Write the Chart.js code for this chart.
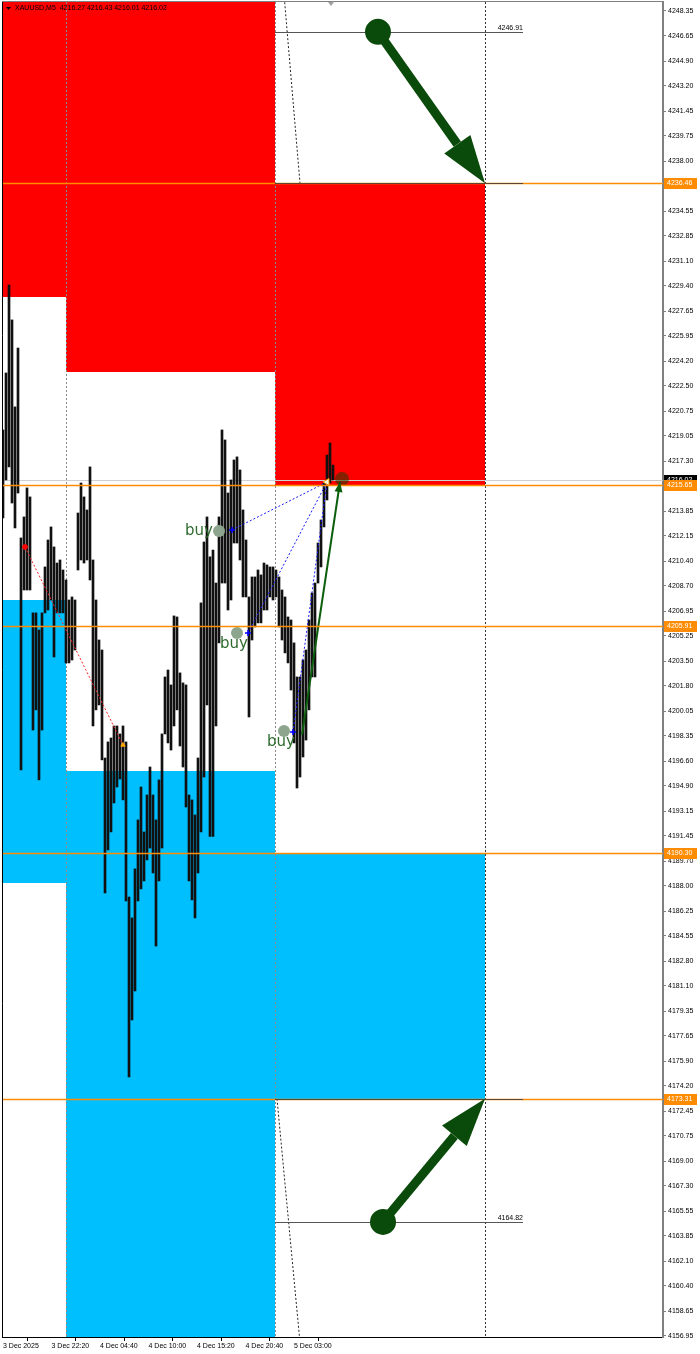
<!DOCTYPE html>
<html>
<head>
<meta charset="utf-8">
<script src="https://cdn.jsdelivr.net/npm/chart.js@4.4.1/dist/chart.umd.min.js"></script>
<style>
  html, body { margin: 0; padding: 0; background: #fff; }
  #wrap { width: 700px; height: 1354px; }
</style>
</head>
<body>
<div id="wrap"><canvas id="chart" width="700" height="1354"></canvas></div>
<script>
// x unit = one screen column of bars on the M5 chart
const timeLabels = ["3 Dec 2025", "3 Dec 22:20", "4 Dec 04:40", "4 Dec 10:00", "4 Dec 15:20", "4 Dec 20:40", "5 Dec 03:00"];
const timeLabelSlots = [0, 16.17, 32.33, 48.5, 64.67, 80.83, 97];

const priceTicks = [
  4248.35, 4246.65, 4244.90, 4243.20, 4241.45, 4239.75, 4238.00, 4236.30, 4234.55, 4232.85,
  4231.10, 4229.40, 4227.65, 4225.95, 4224.20, 4222.50, 4220.75, 4219.05, 4217.30, 4215.60,
  4213.85, 4212.15, 4210.40, 4208.70, 4206.95, 4205.25, 4203.50, 4201.80, 4200.05, 4198.35,
  4196.60, 4194.90, 4193.15, 4191.45, 4189.70, 4188.00, 4186.25, 4184.55, 4182.80, 4181.10,
  4179.35, 4177.65, 4175.90, 4174.20, 4172.45, 4170.75, 4169.00, 4167.30, 4165.55, 4163.85,
  4162.10, 4160.40, 4158.65, 4156.95
];

const barLow = [
  4213.38, 4216.00, 4216.90, 4214.41, 4212.69, 4215.10, 4196.00, 4208.41, 4208.41, 4208.41,
  4198.75, 4200.14, 4195.31, 4198.75, 4206.83, 4207.03, 4207.72, 4203.79, 4206.83, 4206.83,
  4206.83, 4203.38, 4203.38, 4203.58, 4204.27, 4209.79, 4210.48, 4210.27, 4210.48, 4209.10,
  4199.03, 4200.14, 4200.48, 4196.69, 4187.51, 4190.48, 4191.72, 4193.72, 4194.82, 4195.37,
  4193.93, 4186.96, 4174.82, 4178.75, 4180.75, 4186.96, 4187.79, 4188.34, 4189.79, 4190.61,
  4188.89, 4183.85, 4188.34, 4190.61, 4198.48, 4197.86, 4197.37, 4199.03, 4200.14, 4197.65,
  4196.20, 4193.44, 4188.34, 4187.03, 4185.79, 4188.89, 4191.72, 4195.51, 4200.48, 4191.41,
  4191.41, 4199.03, 4204.76, 4208.89, 4208.89, 4207.03, 4207.72, 4211.65, 4211.65, 4210.48,
  4207.93, 4207.93, 4199.65, 4204.96, 4205.86, 4206.14, 4206.14, 4207.03, 4207.03, 4207.93,
  4207.72, 4207.93, 4205.86, 4204.96, 4204.07, 4203.38, 4201.51, 4197.86, 4194.75, 4195.51,
  4196.89, 4198.06, 4200.14, 4202.41, 4202.41, 4208.89, 4210.00, 4212.76, 4214.62, 4215.79,
  4216.00
];
const barHigh = [
  4219.45, 4223.38, 4229.45, 4227.04, 4221.04, 4225.10, 4212.00, 4213.45, 4215.45, 4214.83,
  4206.83, 4206.83, 4205.65, 4206.83, 4210.00, 4211.86, 4212.76, 4211.38, 4210.27, 4210.48,
  4209.79, 4209.10, 4207.72, 4207.93, 4207.72, 4213.72, 4215.79, 4214.83, 4213.93, 4216.90,
  4210.48, 4207.72, 4204.96, 4204.27, 4196.82, 4197.93, 4198.20, 4199.03, 4199.03, 4198.48,
  4199.03, 4197.93, 4187.23, 4185.79, 4189.17, 4192.55, 4194.82, 4191.72, 4194.27, 4196.20,
  4194.27, 4192.55, 4195.31, 4198.48, 4202.41, 4202.89, 4201.86, 4206.62, 4206.55, 4202.69,
  4202.00, 4201.86, 4194.27, 4193.93, 4192.89, 4196.82, 4207.52, 4211.72, 4213.45, 4210.69,
  4211.17, 4208.89, 4213.45, 4219.45, 4218.76, 4215.10, 4216.00, 4217.38, 4217.59, 4216.69,
  4213.93, 4211.86, 4207.93, 4209.31, 4209.31, 4209.79, 4209.45, 4210.27, 4210.14, 4210.00,
  4210.00, 4209.79, 4209.31, 4208.41, 4207.93, 4206.55, 4206.34, 4204.76, 4202.41, 4202.41,
  4203.58, 4204.27, 4206.34, 4208.20, 4208.89, 4211.65, 4213.24, 4215.79, 4217.72, 4218.55,
  4217.03
];

const symbolText = "XAUUSD,M5";
const ohlcText = ["4216.27", "4216.43", "4216.01", "4216.02"];
const bidPrice = 4216.02;
const levelPrices = [4236.46, 4215.65, 4205.91, 4190.30, 4173.31];

// zones: [fromSlot, toSlot, lowPrice, highPrice]
const redZones = [[-2, 21, 4228.62, 4260], [21, 90.67, 4223.45, 4260], [90.67, 160.67, 4215.65, 4236.46]];
const blueZones = [[-2, 21, 4188.20, 4207.72], [21, 90.67, 4150, 4195.93], [90.67, 160.67, 4173.31, 4190.30]];
const separatorSlots = [21, 90.67];
const futureSlot = 160.67;

const targetLevels = [[90.67, 173.33, 4246.91], [90.67, 173.33, 4164.82]];
const zoneEdgeLevels = [[90.67, 173.33, 4236.46], [90.67, 173.33, 4173.31]];
const bigArrows = [[125, 4246.91, 160.67, 4236.46], [126.67, 4164.82, 160.67, 4173.31]];
const slantLines = [[93.67, 4249.5, 99, 4236.46], [91.33, 4173.31, 99, 4156.5]];

const buyMarks = [{ x: 72, y: 4212.48 }, { x: 78, y: 4205.45 }, { x: 93.67, y: 4198.69 }];
const buyFills = [{ x: 76.33, y: 4212.55 }, { x: 81.67, y: 4205.45 }, { x: 96.67, y: 4198.62 }];
const exitPoint = { x: 108, y: 4215.86 };
const sellTrade = [{ x: 7.33, y: 4211.38 }, { x: 40, y: 4197.72 }];
const tradeArrow = [{ x: 99.67, y: 4198.41 }, { x: 112.33, y: 4215.86 }];
const closeMark = { x: 113, y: 4216.07 };
const shiftMarkSlot = 109.33;

const FONT = "'Liberation Sans', Arial, sans-serif";
const ORANGE = "#ff8c00";
const DARK_GREEN = "#0a4a0a";

function drawHead(ctx, x0, y0, x1, y1, len, half) {
  const a = Math.atan2(y1 - y0, x1 - x0);
  const bx = x1 - len * Math.cos(a), by = y1 - len * Math.sin(a);
  ctx.beginPath();
  ctx.moveTo(x1, y1);
  ctx.lineTo(bx + half * Math.sin(a), by - half * Math.cos(a));
  ctx.lineTo(bx - half * Math.sin(a), by + half * Math.cos(a));
  ctx.closePath();
  ctx.fill();
  return [bx, by];
}

const overlayPlugin = {
  id: "overlay",
  beforeDatasetsDraw(chart) {
    const { ctx, chartArea: a } = chart;
    const xs = chart.scales.x, ys = chart.scales.y;
    ctx.save();
    ctx.beginPath();
    ctx.rect(a.left, a.top, a.right - a.left, a.bottom - a.top);
    ctx.clip();

    const fillZone = (z, color) => {
      const x0 = Math.round(xs.getPixelForValue(z[0])), x1 = Math.round(xs.getPixelForValue(z[1]));
      const y0 = Math.round(ys.getPixelForValue(z[3])), y1 = Math.round(ys.getPixelForValue(z[2]));
      ctx.fillStyle = color;
      ctx.fillRect(x0, y0, x1 - x0, y1 - y0);
    };
    redZones.forEach((z) => fillZone(z, "#ff0000"));
    blueZones.forEach((z) => fillZone(z, "#00bfff"));

    // bid line
    const by = Math.round(ys.getPixelForValue(bidPrice)) + 0.5;
    ctx.strokeStyle = "#d0d0d0";
    ctx.lineWidth = 1;
    ctx.beginPath();
    ctx.moveTo(a.left, by);
    ctx.lineTo(a.right, by);
    ctx.stroke();

    // day separators and future line
    ctx.setLineDash([2, 2]);
    separatorSlots.forEach((s) => {
      const x = Math.round(xs.getPixelForValue(s)) + 0.5;
      ctx.strokeStyle = "#8a8a8a";
      ctx.beginPath();
      ctx.moveTo(x, a.top);
      ctx.lineTo(x, a.bottom);
      ctx.stroke();
    });
    const fx = Math.round(xs.getPixelForValue(futureSlot)) + 0.5;
    ctx.strokeStyle = "#333";
    ctx.beginPath();
    ctx.moveTo(fx, a.top);
    ctx.lineTo(fx, a.bottom);
    ctx.stroke();

    ctx.strokeStyle = "#222";
    slantLines.forEach((l) => {
      ctx.beginPath();
      ctx.moveTo(xs.getPixelForValue(l[0]), ys.getPixelForValue(l[1]));
      ctx.lineTo(xs.getPixelForValue(l[2]), ys.getPixelForValue(l[3]));
      ctx.stroke();
    });
    ctx.setLineDash([]);

    // target levels with labels
    ctx.font = "7px " + FONT;
    ctx.fillStyle = "#000";
    ctx.textAlign = "right";
    ctx.textBaseline = "bottom";
    targetLevels.forEach((l) => {
      const x0 = xs.getPixelForValue(l[0]), x1 = xs.getPixelForValue(l[1]);
      const y = Math.round(ys.getPixelForValue(l[2])) + 0.5;
      ctx.strokeStyle = "#555";
      ctx.beginPath();
      ctx.moveTo(x0, y);
      ctx.lineTo(x1, y);
      ctx.stroke();
      ctx.fillText(l[2].toFixed(2), x1, y - 1);
    });
    ctx.restore();
  },
  afterDatasetsDraw(chart) {
    const { ctx, chartArea: a } = chart;
    const xs = chart.scales.x, ys = chart.scales.y;
    ctx.save();
    ctx.beginPath();
    ctx.rect(a.left, a.top, a.right - a.left, a.bottom - a.top);
    ctx.clip();

    // orange levels
    ctx.strokeStyle = ORANGE;
    ctx.lineWidth = 1.5;
    levelPrices.forEach((p) => {
      const y = Math.round(ys.getPixelForValue(p)) + 0.5;
      ctx.beginPath();
      ctx.moveTo(a.left, y);
      ctx.lineTo(a.right, y);
      ctx.stroke();
    });
    ctx.strokeStyle = "#5a4632";
    ctx.lineWidth = 1;
    zoneEdgeLevels.forEach((l) => {
      const y = Math.round(ys.getPixelForValue(l[2])) + 0.5;
      ctx.beginPath();
      ctx.moveTo(xs.getPixelForValue(l[0]), y);
      ctx.lineTo(xs.getPixelForValue(l[1]), y);
      ctx.stroke();
    });

    // big arrows
    ctx.fillStyle = DARK_GREEN;
    ctx.strokeStyle = DARK_GREEN;
    bigArrows.forEach((ar) => {
      const x0 = xs.getPixelForValue(ar[0]), y0 = ys.getPixelForValue(ar[1]);
      const x1 = xs.getPixelForValue(ar[2]), y1 = ys.getPixelForValue(ar[3]);
      const [bx, by] = drawHead(ctx, x0, y0, x1, y1, 48, 16);
      ctx.lineWidth = 9;
      ctx.beginPath();
      ctx.moveTo(x0, y0);
      ctx.lineTo(bx, by);
      ctx.stroke();
      ctx.beginPath();
      ctx.arc(x0, y0, 13, 0, Math.PI * 2);
      ctx.fill();
    });

    // trade arrow head
    ctx.fillStyle = "#0b5e0b";
    drawHead(ctx,
      xs.getPixelForValue(tradeArrow[0].x), ys.getPixelForValue(tradeArrow[0].y),
      xs.getPixelForValue(tradeArrow[1].x), ys.getPixelForValue(tradeArrow[1].y), 10, 4);

    // buy labels
    ctx.font = "15px 'DejaVu Sans', sans-serif";
    ctx.fillStyle = "#2e6b2e";
    buyMarks.forEach((m, i) => {
      const x = xs.getPixelForValue(m.x), y = ys.getPixelForValue(m.y);
      if (i === 0) {
        ctx.textAlign = "right";
        ctx.textBaseline = "middle";
        ctx.fillText("buy", x - 6, y);
      } else {
        ctx.textAlign = "center";
        ctx.textBaseline = "middle";
        ctx.fillText("buy", x - 3, y + 11);
      }
    });
    ctx.restore();

    // frame
    ctx.save();
    ctx.lineWidth = 1;
    ctx.strokeStyle = "#000";
    ctx.beginPath();
    ctx.moveTo(a.left + 0.5, a.top);
    ctx.lineTo(a.left + 0.5, a.bottom);
    ctx.stroke();
    ctx.strokeStyle = "#808080";
    ctx.beginPath();
    ctx.moveTo(a.left, a.top - 0.5);
    ctx.lineTo(a.right, a.top - 0.5);
    ctx.stroke();
    ctx.restore();
  },
  afterDraw(chart) {
    const { ctx, chartArea: a } = chart;
    const xs = chart.scales.x, ys = chart.scales.y;
    ctx.save();
    ctx.font = "7px " + FONT;
    ctx.textAlign = "left";
    ctx.textBaseline = "middle";
    const box = (p, bg) => {
      const y = Math.round(ys.getPixelForValue(p));
      ctx.fillStyle = bg;
      ctx.fillRect(a.right + 1, y - 5, 33, 11);
      ctx.fillStyle = "#fff";
      ctx.fillText(p.toFixed(2), a.right + 4, y + 0.5);
    };
    box(bidPrice, "#000");
    levelPrices.forEach((p) => box(p, ORANGE));

    // symbol info line
    ctx.fillStyle = "#000";
    ctx.beginPath();
    ctx.moveTo(a.left + 4, a.top + 5);
    ctx.lineTo(a.left + 9, a.top + 5);
    ctx.lineTo(a.left + 6.5, a.top + 8);
    ctx.closePath();
    ctx.fill();
    ctx.fillText(symbolText + "  " + ohlcText.join(" "), a.left + 13, a.top + 6.5);

    // chart shift marker
    const sx = xs.getPixelForValue(shiftMarkSlot);
    ctx.fillStyle = "#a0a0a0";
    ctx.beginPath();
    ctx.moveTo(sx - 3, a.top);
    ctx.lineTo(sx + 3, a.top);
    ctx.lineTo(sx, a.top + 4);
    ctx.closePath();
    ctx.fill();
    ctx.restore();
  }
};

const overlayLine = (data, color, dash, width, order) => ({
  type: "line", data, borderColor: color, borderWidth: width, borderDash: dash,
  pointRadius: 0, fill: false, order
});
const marker = (data, opts) => Object.assign({ type: "line", data, showLine: false, order: 1 }, opts);

new Chart(document.getElementById("chart"), {
  type: "bar",
  data: {
    datasets: [
      {
        type: "bar",
        data: barLow.map((lo, i) => ({ x: i, y: [lo, barHigh[i]] })),
        backgroundColor: "#111",
        barThickness: 2,
        order: 10,
      },
      overlayLine(sellTrade, "#ff2020", [2, 2], 1, 3),
      ...buyFills.map((p) => overlayLine([p, exitPoint], "#1a1aff", [2, 2], 1, 3)),
      overlayLine(tradeArrow, "#0b5e0b", [], 2, 2),
      marker(buyMarks, { pointRadius: 6, pointBackgroundColor: "#8da58d", pointBorderWidth: 0 }),
      marker(buyFills, { pointStyle: "cross", pointRadius: 3, pointBorderColor: "#0000ff", pointBorderWidth: 1.5 }),
      marker([sellTrade[0]], { pointStyle: "star", pointRadius: 3, pointBorderColor: "#ff0000", pointBorderWidth: 1.5 }),
      marker([sellTrade[1]], { pointStyle: "triangle", pointRadius: 2.5, pointBackgroundColor: "#ffa500", pointBorderColor: "#ffa500" }),
      marker([exitPoint], { pointStyle: "triangle", pointRotation: -90, pointRadius: 4, pointBackgroundColor: "#fff8e0", pointBorderColor: "#ff9900", pointBorderWidth: 1 }),
      marker([closeMark], { pointRadius: 7, pointBackgroundColor: "rgba(30,60,0,0.55)", pointBorderWidth: 0 }),
    ],
  },
  options: {
    responsive: false,
    animation: false,
    events: [],
    layout: { autoPadding: false, padding: { left: 2, top: 2, right: 0, bottom: 0 } },
    plugins: {
      legend: { display: false },
      tooltip: { enabled: false },
    },
    scales: {
      x: {
        type: "linear",
        min: -0.333,
        max: 220,
        offset: false,
        grid: { drawOnChartArea: false, tickLength: 4, color: "#000" },
        border: { color: "#000", width: 1 },
        ticks: {
          autoSkip: false,
          maxRotation: 0,
          align: "start",
          padding: 1,
          color: "#000",
          font: { family: FONT, size: 7 },
          callback: (val, i) => timeLabels[i],
        },
        afterBuildTicks: (s) => { s.ticks = timeLabelSlots.map((v) => ({ value: v })); },
        afterFit: (s) => {
          s.height = 17;
          s.paddingLeft = 0;
          s.paddingRight = 0;
        },
      },
      y: {
        position: "right",
        min: 4156.88,
        max: 4248.97,
        grid: { drawOnChartArea: false, tickLength: 3, color: "#808080" },
        border: { color: "#808080", width: 2 },
        ticks: {
          autoSkip: false,
          padding: 2,
          color: "#000",
          font: { family: FONT, size: 7 },
          callback: (val) => Number(val).toFixed(2),
        },
        afterBuildTicks: (s) => { s.ticks = priceTicks.map((v) => ({ value: v })); },
        afterFit: (s) => {
          s.width = 37;
          s.paddingTop = 0;
          s.paddingBottom = 0;
        },
      },
    },
  },
  plugins: [overlayPlugin],
});
</script>
</body>
</html>
